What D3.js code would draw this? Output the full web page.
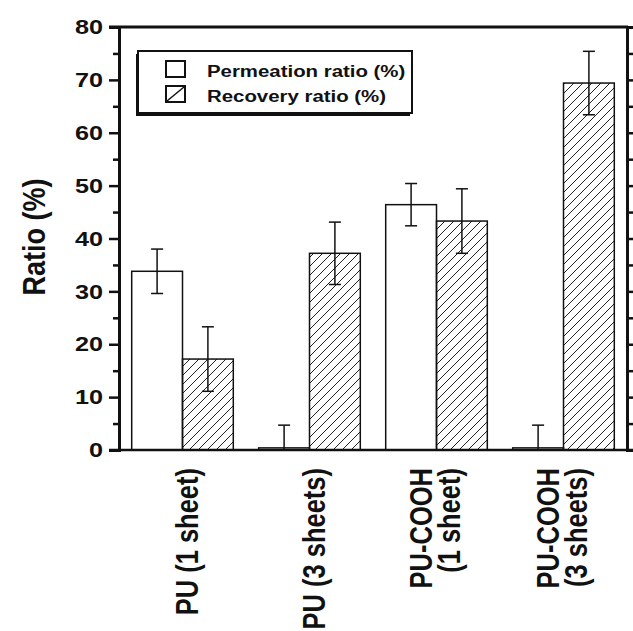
<!DOCTYPE html>
<html>
<head>
<meta charset="utf-8">
<title>Permeation and recovery ratio</title>
<style>
  body { margin: 0; background: #fff; }
  svg text { font-family: "Liberation Sans", Arial, sans-serif; font-weight: bold; fill: #111; }
</style>
</head>
<body>
<svg id="chart" width="633" height="631"></svg>
<script src="https://d3js.org/d3.v7.min.js"></script>
<script>
// data
const categories = [["PU (1 sheet)"], ["PU (3 sheets)"], ["PU-COOH", "(1 sheet)"], ["PU-COOH", "(3 sheets)"]];
const seriesNames = ["Permeation ratio (%)", "Recovery ratio (%)"];
const permeation = [33.8, 0.4, 46.4, 0.4];
const permeationErr = [4.2, 4.3, 4.0, 4.3];
const recovery = [17.2, 37.2, 43.3, 69.4];
const recoveryErr = [6.1, 5.9, 6.1, 6.0];
const majorTicks = [0, 10, 20, 30, 40, 50, 60, 70, 80];
const minorTicks = [5, 15, 25, 35, 45, 55, 65, 75];

const svg = d3.select('#chart');
const plotLeft = 119, plotRight = 627, plotTop = 27, plotBottom = 450;
const sx = 1.2; // the scan is stretched sideways

const y = d3.scaleLinear().domain([0, 80]).range([plotBottom, plotTop]);
const x = d3.scaleBand().domain(d3.range(categories.length)).range([plotLeft, plotRight]);
const inner = d3.scaleBand().domain([0, 1]).range([0, x.bandwidth()]).paddingOuter(0.25);

// hatch pattern
const defs = svg.append('defs');
defs.append('pattern')
  .attr('id', 'hatch')
  .attr('patternUnits', 'userSpaceOnUse')
  .attr('width', 9).attr('height', 9)
  .append('path')
  .attr('d', 'M-1,1 l2,-2 M0,9 l9,-9 M8,10 l2,-2')
  .attr('stroke', '#222').attr('stroke-width', 1);
defs.append('clipPath').attr('id', 'plotclip')
  .append('rect').attr('x', plotLeft).attr('y', 0).attr('width', plotRight - plotLeft).attr('height', plotBottom);

// build rows for the bars
const rows = [];
categories.forEach((c, i) => {
  rows.push({ g: i, s: 0, v: permeation[i], e: permeationErr[i] });
  rows.push({ g: i, s: 1, v: recovery[i], e: recoveryErr[i] });
});

const bars = svg.append('g');
bars.selectAll('rect')
  .data(rows)
  .join('rect')
  .attr('x', d => x(d.g) + inner(d.s))
  .attr('y', d => y(d.v))
  .attr('width', inner.bandwidth())
  .attr('height', d => y(0) - y(d.v))
  .attr('fill', d => d.s === 0 ? '#fff' : 'url(#hatch)')
  .attr('stroke', '#111')
  .attr('stroke-width', 1.5);

// error bars
const err = svg.append('g').attr('clip-path', 'url(#plotclip)')
  .attr('stroke', '#111').attr('stroke-width', 1.5);
const ex = d => x(d.g) + inner(d.s) + inner.bandwidth() / 2;
err.selectAll('line.v')
  .data(rows).join('line').attr('class', 'v')
  .attr('x1', ex).attr('x2', ex)
  .attr('y1', d => y(d.v - d.e)).attr('y2', d => y(d.v + d.e));
err.selectAll('line.top')
  .data(rows).join('line').attr('class', 'top')
  .attr('x1', d => ex(d) - 6).attr('x2', d => ex(d) + 6)
  .attr('y1', d => y(d.v + d.e)).attr('y2', d => y(d.v + d.e));
err.selectAll('line.bot')
  .data(rows).join('line').attr('class', 'bot')
  .attr('x1', d => ex(d) - 6).attr('x2', d => ex(d) + 6)
  .attr('y1', d => y(d.v - d.e)).attr('y2', d => y(d.v - d.e));

// axes
const yAxis = svg.append('g')
  .attr('transform', `translate(${plotLeft},0)`)
  .call(d3.axisLeft(y).tickValues(majorTicks).tickSize(10).tickPadding(3.3));
yAxis.selectAll('text')
  .attr('font-size', 21)
  .attr('transform', `scale(${sx},1)`);
svg.append('g')
  .attr('transform', `translate(${plotLeft},0)`)
  .call(d3.axisLeft(y).tickValues(minorTicks).tickSize(6).tickFormat(''));
svg.append('g')
  .attr('transform', `translate(${plotRight},0)`)
  .call(d3.axisRight(y).tickValues(majorTicks.concat(minorTicks)).tickSize(8).tickFormat(''));
svg.selectAll('.domain').attr('stroke-width', 3).attr('stroke', '#111');
svg.selectAll('.tick line').attr('stroke-width', 2.5).attr('stroke', '#111');

// frame top and baseline
svg.append('line').attr('x1', 109).attr('x2', plotRight + 1).attr('y1', plotTop).attr('y2', plotTop)
  .attr('stroke', '#111').attr('stroke-width', 3);
svg.append('line').attr('x1', 109).attr('x2', 633).attr('y1', y(0)).attr('y2', y(0))
  .attr('stroke', '#111').attr('stroke-width', 2.5);

// category labels, rotated
const labels = svg.append('g');
categories.forEach((lines, i) => {
  const cx = x(i) + x.bandwidth() / 2;
  lines.forEach((t, k) => {
    const bx = lines.length === 1 ? cx + 15.5 : cx - 4.5 + k * 28;
    labels.append('text')
      .attr('transform', `translate(${bx},468) scale(${sx},1) rotate(-90)`)
      .attr('text-anchor', 'end')
      .attr('font-size', 25.5)
      .text(t);
  });
});

// y title
svg.append('text')
  .attr('transform', `translate(45,237) scale(1.15,1) rotate(-90)`)
  .attr('text-anchor', 'middle')
  .attr('font-size', 27)
  .text('Ratio (%)');

// legend
const lg = svg.append('g');
lg.append('rect').attr('x', 136).attr('y', 54).attr('width', 274).attr('height', 62).attr('fill', '#111');
lg.append('rect').attr('x', 138).attr('y', 51).attr('width', 274).attr('height', 62)
  .attr('fill', '#fff').attr('stroke', '#111').attr('stroke-width', 2);
const items = lg.selectAll('g.item')
  .data(seriesNames)
  .join('g')
  .attr('class', 'item')
  .attr('transform', (d, i) => `translate(0,${i * 25})`);
items.append('rect')
  .attr('x', 166).attr('y', 61).attr('width', 19).attr('height', 16)
  .attr('fill', '#fff').attr('stroke', '#111').attr('stroke-width', 2);
items.filter((d, i) => i === 1).append('line')
  .attr('x1', 167).attr('y1', 76).attr('x2', 184).attr('y2', 62)
  .attr('stroke', '#111').attr('stroke-width', 1.5);
items.append('text')
  .attr('transform', `translate(207,77) scale(${sx},1)`)
  .attr('font-size', 17)
  .text(d => d);
</script>
</body>
</html>
